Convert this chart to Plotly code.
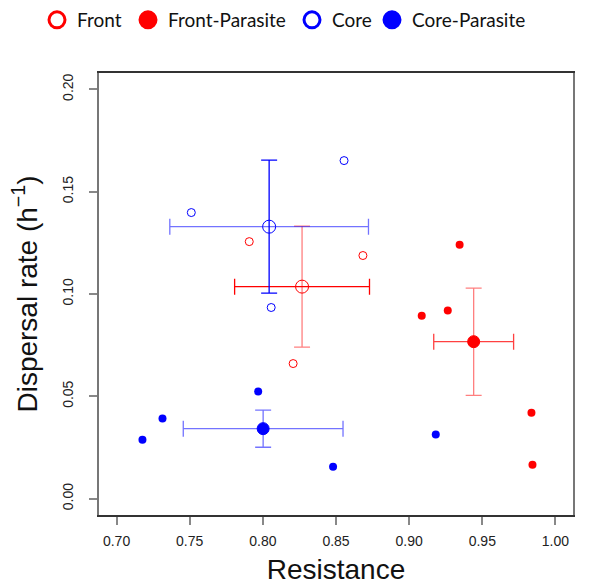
import plotly.graph_objects as go

# ---- data ----
front_x = [0.7907, 0.8684, 0.8207]
front_y = [0.1256, 0.1188, 0.0660]
core_x = [0.7511, 0.8555, 0.8057]
core_y = [0.1398, 0.1652, 0.0934]
front_par_x = [0.9345, 0.9264, 0.9086, 0.9836, 0.9843]
front_par_y = [0.1241, 0.0919, 0.0894, 0.0420, 0.0166]
core_par_x = [0.7177, 0.7314, 0.7968, 0.8480, 0.9182]
core_par_y = [0.0288, 0.0391, 0.0523, 0.0156, 0.0313]

groups = ["Front", "Front-Parasite", "Core", "Core-Parasite"]
mean_x = [0.8268, 0.9441, 0.8043, 0.8002]
mean_y = [0.1036, 0.0767, 0.1329, 0.0342]
err_x = [0.0461, 0.0273, 0.0679, 0.0546]
err_y = [0.0296, 0.0262, 0.0325, 0.0091]

x_ticks = [0.70, 0.75, 0.80, 0.85, 0.90, 0.95, 1.00]
y_ticks = [0.00, 0.05, 0.10, 0.15, 0.20]

RED = "#ff0000"
BLUE = "#0000ff"
RED_L = "rgba(255,0,0,0.5)"
BLUE_L = "rgba(0,0,255,0.55)"

fig = go.Figure()

# individual points
fig.add_trace(go.Scatter(x=front_x, y=front_y, mode="markers", showlegend=False,
                         marker=dict(symbol="circle-open", size=8, color=RED, line=dict(width=1, color=RED))))
fig.add_trace(go.Scatter(x=core_x, y=core_y, mode="markers", showlegend=False,
                         marker=dict(symbol="circle-open", size=8, color=BLUE, line=dict(width=1, color=BLUE))))
fig.add_trace(go.Scatter(x=front_par_x, y=front_par_y, mode="markers", showlegend=False,
                         marker=dict(symbol="circle", size=8, color=RED)))
fig.add_trace(go.Scatter(x=core_par_x, y=core_par_y, mode="markers", showlegend=False,
                         marker=dict(symbol="circle", size=8, color=BLUE)))

# means with error bars
styles = {
    "Front": dict(sym="circle-open", size=13, col=RED, ex=RED, ey=RED_L),
    "Front-Parasite": dict(sym="circle", size=12, col=RED, ex="rgba(255,0,0,0.75)", ey=RED_L),
    "Core": dict(sym="circle-open", size=13, col=BLUE, ex=BLUE_L, ey=BLUE),
    "Core-Parasite": dict(sym="circle", size=12, col=BLUE, ex=BLUE_L, ey=BLUE_L),
}
for i, g in enumerate(groups):
    s = styles[g]
    fig.add_trace(go.Scatter(
        x=[mean_x[i]], y=[mean_y[i]], mode="markers", showlegend=False,
        marker=dict(symbol=s["sym"], size=s["size"], color=s["col"], line=dict(width=1, color=s["col"])),
        error_x=dict(type="data", array=[err_x[i]], color=s["ex"], thickness=1.3, width=8),
        error_y=dict(type="data", array=[err_y[i]], color=s["ey"], thickness=1.3, width=8),
    ))

# legend entries, one legend box per entry so they sit in a single row
leg_sym = ["circle-open", "circle", "circle-open", "circle"]
leg_col = [RED, RED, BLUE, BLUE]
leg_ids = ["legend", "legend2", "legend3", "legend4"]
leg_px = [37, 128, 292, 372]
for g, sy, c, lid in zip(groups, leg_sym, leg_col, leg_ids):
    fig.add_trace(go.Scatter(x=[None], y=[None], mode="markers", name=g, legend=lid,
                             marker=dict(symbol=sy, size=16, color=c, line=dict(width=3, color=c))))

leg_common = dict(orientation="h", xref="container", yref="container",
                  xanchor="left", yanchor="middle", y=1 - 20 / 586,
                  font=dict(family="Lato", size=19, color="#111"),
                  itemclick=False, itemdoubleclick=False, bgcolor="rgba(0,0,0,0)")

fig.update_layout(
    width=595, height=586,
    margin=dict(l=99, r=22, t=73, b=71, autoexpand=False),
    plot_bgcolor="white", paper_bgcolor="white",
    font=dict(family="Liberation Sans, Arial", color="#222"),
    legend=dict(x=leg_px[0] / 595, **leg_common),
    legend2=dict(x=leg_px[1] / 595, **leg_common),
    legend3=dict(x=leg_px[2] / 595, **leg_common),
    legend4=dict(x=leg_px[3] / 595, **leg_common),
    xaxis=dict(range=[0.688, 1.012], tickvals=x_ticks, ticktext=[f"{v:.2f}" for v in x_ticks],
               automargin=False,
               showgrid=False, zeroline=False, showline=True, mirror=True, linecolor="#333", linewidth=1.5,
               ticks="outside", ticklen=8, tickcolor="#888", tickwidth=1.5,
               ticklabelstandoff=4,
               tickfont=dict(size=14, color="#222"),
               title=dict(text="Resistance", font=dict(size=28, color="#111"), standoff=12)),
    yaxis=dict(range=[-0.008, 0.208], tickvals=y_ticks, ticktext=[f"{v:.2f}" for v in y_ticks],
               automargin=False,
               showgrid=False, zeroline=False, showline=True, mirror=True, linecolor="#777", linewidth=1.5,
               ticks="outside", ticklen=8, tickcolor="#888", tickwidth=1.5, tickangle=-90,
               ticklabelstandoff=11,
               tickfont=dict(size=14, color="#222"),
               title=dict(text="Dispersal rate (h<sup>−1</sup>)", font=dict(size=28, color="#111"), standoff=14)),
)

fig.write_html("out.html", config={"displayModeBar": False},
               post_script="document.body.style.margin='0';document.body.style.padding='0';")
